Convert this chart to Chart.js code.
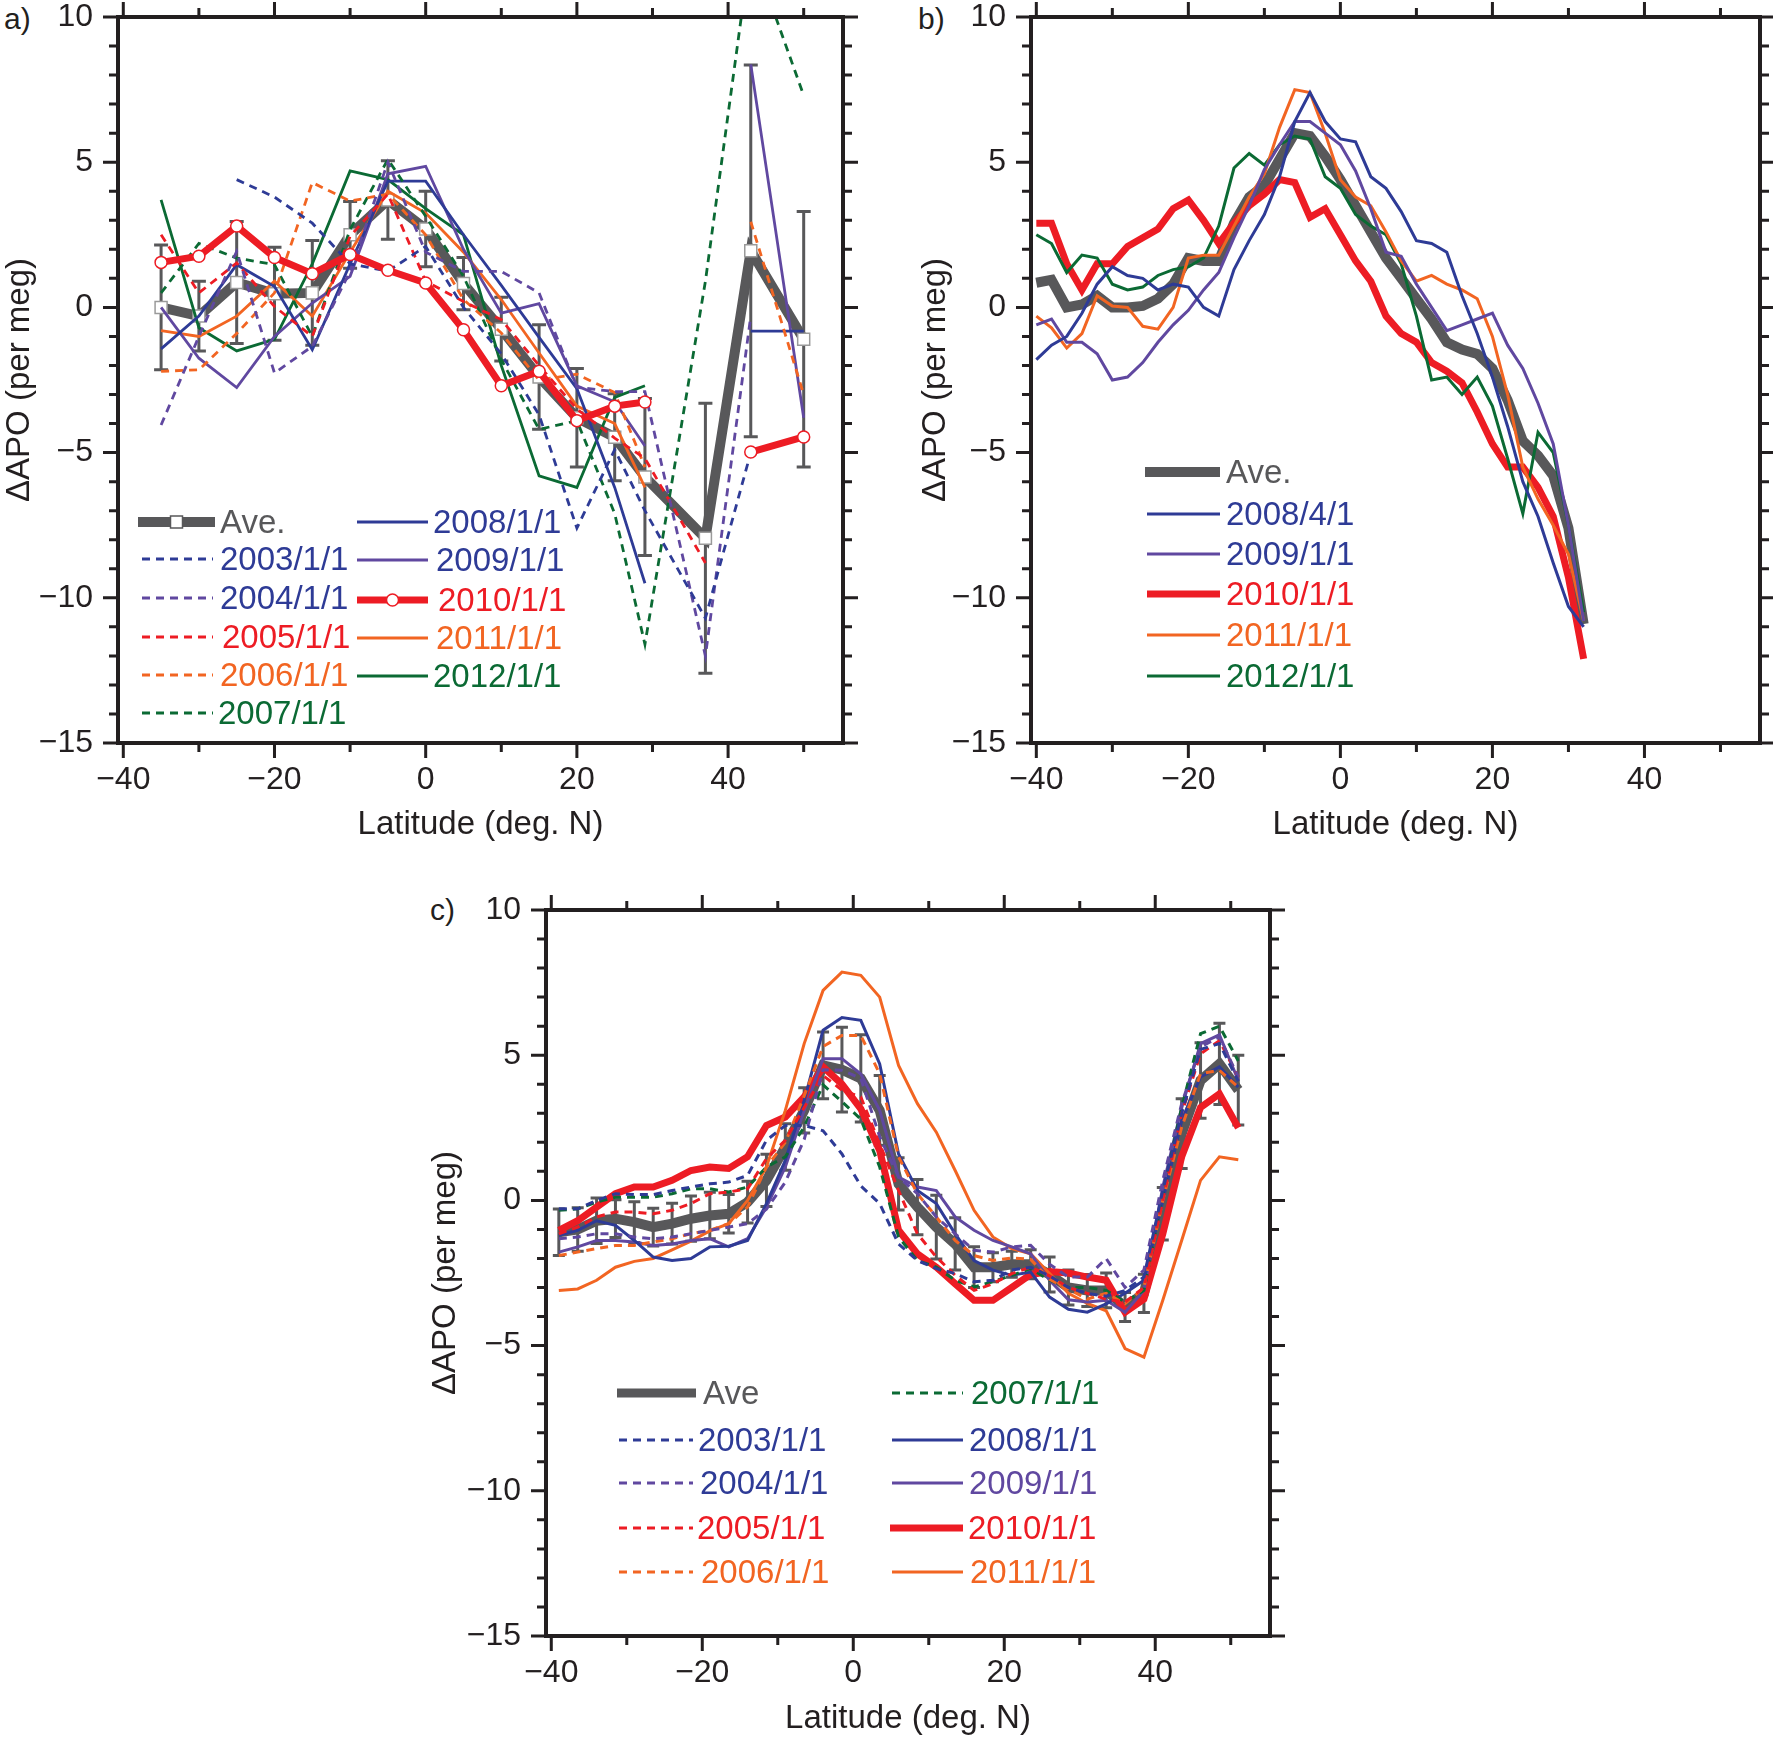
<!DOCTYPE html>
<html>
<head>
<meta charset="utf-8">
<script src="https://cdn.jsdelivr.net/npm/chart.js@4.4.1/dist/chart.umd.min.js"></script>
<style>
  html, body { margin: 0; padding: 0; background: #fff; }
  body { width: 1773px; height: 1739px; position: relative; overflow: hidden; font-family: 'Liberation Sans', Arial, sans-serif; }
  .panel { position: absolute; }
  .tag { position: absolute; font-size: 30px; color: #231f20; }
</style>
</head>
<body>
<div class="tag" style="left:4px;top:2px">a)</div>
<div class="tag" style="left:918px;top:2px">b)</div>
<div class="tag" style="left:430px;top:893px">c)</div>
<div class="panel" style="left:0;top:0;width:880px;height:870px"><canvas id="chartA"></canvas></div>
<div class="panel" style="left:910px;top:0;width:863px;height:870px"><canvas id="chartB"></canvas></div>
<div class="panel" style="left:420px;top:880px;width:880px;height:859px"><canvas id="chartC"></canvas></div>
<script>
// ---- panel a data (latitude bins, per meg) ----
const latA = [-35, -30, -25, -20, -15, -10, -5, 0, 5, 10, 15, 20, 25, 29, 37, 43, 50];
const aveA = [0, -0.3, 0.86, 0.47, 0.5, 2.5, 3.7, 2.7, 0.82, -0.75, -2.4, -3.8, -4.47, -5.84, -7.95, 1.95, -1.1];
const errA = [2.15, 1.2, 2.1, 1.6, 1.8, 1.15, 1.35, 1.3, 0.9, 1.1, 1.8, 1.7, 1.5, 2.7, 4.65, 6.4, 4.4];
const a2003 = [null, null, 4.4, 3.8, 2.9, 1.5, 1.25, 2.1, 0.0, -1.6, -3.7, -7.6, -4.9, -7.0, -10.7, -5.0, null];
const a2004 = [-4.05, -1.0, 1.93, -2.26, -1.34, 1.24, 5.0, 1.9, 1.24, 1.24, 0.5, -2.75, -2.9, -2.9, -12.0, -0.3, null];
const a2005 = [2.5, 0.5, 1.53, 0.03, -1.0, 2.45, 3.9, 0.9, 0.2, -0.42, -2.0, -3.5, -4.5, -5.2, -8.8, null, null];
const a2006 = [-2.2, -2.15, -0.9, 0.5, 4.3, 3.66, 3.9, 2.5, 0.27, -0.88, -2.5, -2.3, -2.93, -5.5, null, 2.95, -3.0];
const a2007 = [0.5, 2.2, 1.7, 1.47, -1.0, 2.68, 5.1, 3.14, 1.07, -1.8, -4.2, -3.9, -7.1, -11.6, 0.9, 12.4, 7.3];
const a2008 = [-1.43, -0.3, 1.47, 0.72, -1.46, 1.5, 4.35, 4.35, 2.5, 0.76, -1.03, -2.8, -6.2, -9.5, null, -0.82, -0.82];
const a2009 = [0, -1.75, -2.76, -1.0, 0.15, 1.07, 4.6, 4.86, 2.0, -0.2, 0.13, -2.7, -3.25, -4.77, null, 8.37, -3.8];
const a2010 = [1.55, 1.76, 2.8, 1.72, 1.16, 1.82, 1.28, 0.84, -0.77, -2.7, -2.2, -3.9, -3.4, -3.26, null, -4.98, -4.46];
const a2011 = [-0.8, -1.0, -0.3, 0.9, -0.3, 1.9, 4.0, 3.25, 1.9, 0.27, -1.57, -3.4, -4.0, -6.2, null, null, null];
const a2012 = [3.7, -0.7, -1.5, -1.1, 1.5, 4.7, 4.4, 3.4, 2.5, -2.0, -5.8, -6.2, -3.1, -2.7, null, null, null];

// ---- panel b data ----
const latB = [-40, -38, -36, -34, -32, -30, -28, -26, -24, -22, -20, -18, -16, -14, -12, -10, -8, -6, -4, -2,
              0, 2, 4, 6, 8, 10, 12, 14, 16, 18, 20, 22, 24, 26, 28, 30, 32];
const aveB = [0.85, 0.95, 0.0, 0.1, 0.4, 0.0, 0.0, 0.05, 0.3, 0.8, 1.7, 1.6, 1.6, 2.9, 3.8, 4.2, 5.1, 6.0, 5.9, 5.2,
              4.4, 3.5, 2.6, 1.7, 1.0, 0.3, -0.4, -1.2, -1.45, -1.6, -2.1, -3.2, -4.6, -5.1, -5.8, -7.6, -10.9];
const b2008 = [-1.8, -1.3, -1.0, -0.2, 0.8, 1.4, 1.1, 1.0, 0.6, 0.8, 0.7, 0.0, -0.3, 1.3, 2.3, 3.2, 4.5, 6.4, 7.4, 6.4,
               5.8, 5.7, 4.5, 4.1, 3.3, 2.3, 2.2, 1.9, 0.4, -0.9, -2.4, -4.1, -6.0, -7.2, -8.8, -10.3, -11.0];
const b2009 = [-0.6, -0.4, -1.2, -1.2, -1.6, -2.5, -2.4, -1.9, -1.2, -0.6, -0.1, 0.6, 1.2, 2.4, 3.5, 4.75, 5.6, 6.4, 6.4, 6.0,
               5.6, 4.7, 3.4, 1.9, 1.76, 0.8, 0.0, -0.8, -0.6, -0.4, -0.2, -1.3, -2.1, -3.3, -4.7, -7.5, -10.8];
const b2010 = [2.9, 2.9, 1.5, 0.6, 1.5, 1.5, 2.1, 2.4, 2.7, 3.4, 3.7, 3.0, 2.2, 2.9, 3.5, 3.9, 4.4, 4.3, 3.1, 3.4,
               2.5, 1.6, 0.9, -0.3, -0.9, -1.2, -1.9, -2.2, -2.6, -3.6, -4.7, -5.5, -5.5, -6.2, -7.2, -9.3, -12.1];
const b2011 = [-0.3, -0.7, -1.4, -0.9, 0.4, 0.05, 0.0, -0.65, -0.75, 0.0, 1.7, 1.8, 1.8, 2.8, 3.8, 4.6, 6.2, 7.5, 7.4, 6.0,
               4.4, 3.8, 3.5, 2.6, 1.6, 0.9, 1.1, 0.8, 0.6, 0.3, -1.0, -3.0, -5.5, -6.6, -7.5, -8.5, -10.8];
const b2012 = [2.5, 2.2, 1.2, 1.8, 1.7, 0.8, 0.6, 0.7, 1.1, 1.3, 1.4, 1.7, 2.8, 4.8, 5.3, 4.9, 5.6, 5.9, 5.8, 4.5,
               4.1, 3.2, 2.8, 2.5, 1.5, -0.3, -2.5, -2.4, -3.0, -2.4, -3.4, -5.2, -7.1, -4.3, -5.0, -7.5, -10.5];

// ---- panel c data ----
const latC = [-39, -36.5, -34, -31.5, -29, -26.5, -24, -21.5, -19, -16.5, -14, -11.5, -9, -6.5, -4, -1.5, 1, 3.5, 6,
              8.5, 11, 13.5, 16, 18.5, 21, 23.5, 26, 28.5, 31, 33.5, 36, 38.5, 41, 43.5, 46, 48.5, 51];
const aveC = [-1.1, -1.0, -0.7, -0.63, -0.75, -0.92, -0.8, -0.63, -0.52, -0.46, -0.06, 0.69, 1.84, 3.1, 4.65, 4.5, 4.2, 3.1, 0.57,
              -0.23, -0.92, -1.5, -2.3, -2.3, -2.2, -2.2, -2.55, -3.0, -3.1, -3.1, -3.67, -3.2, -0.46, 2.3, 4.13, 4.7, 3.8];
const errC = [0.8, 0.75, 0.78, 0.65, 0.7, 0.65, 0.7, 0.78, 0.8, 0.66, 0.72, 0.9, 0.8, 0.78, 1.15, 1.46, 1.5, 1.2, 0.9,
              0.95, 1.1, 0.9, 0.7, 0.5, 0.45, 0.5, 0.6, 0.6, 0.55, 0.6, 0.5, 0.66, 0.9, 1.2, 1.3, 1.4, 1.2];
const c2003 = [-0.29, -0.29, 0.0, 0.23, 0.2, 0.2, 0.34, 0.46, 0.57, 0.63, 0.86, 2.07, 2.58, 2.58, 2.4, 1.6, 0.5, -0.11, -1.5,
               -2.07, -2.35, -2.52, -2.8, -2.75, -2.4, -2.3, -2.6, -3.0, -3.2, -3.3, -3.1, -2.64, 0.34, 3.0, 5.2, 5.4, 4.1];
const c2004 = [-1.32, -1.26, -1.15, -1.15, -1.26, -1.32, -1.26, -1.15, -1.03, -0.92, -0.8, -0.3, 0.63, 2.1, 4.5, 4.48, 4.2, 2.2, 0.8,
               0.23, -0.57, -1.15, -1.72, -1.78, -1.6, -1.55, -2.2, -2.64, -2.64, -2.0, -3.0, -2.4, 0.69, 3.33, 5.28, 5.63, 4.25];
const c2005 = [-1.15, -0.92, -0.57, -0.4, -0.4, -0.46, -0.34, -0.11, 0.23, 0.29, 0.4, 1.44, 2.07, 3.2, 4.3, 3.8, 3.56, 1.95, 0.34,
               -1.15, -1.95, -2.58, -3.1, -2.87, -2.52, -2.3, -2.6, -3.0, -3.2, -3.4, -3.5, -3.0, 0.0, 3.0, 5.05, 5.5, 4.25];
const c2006 = [-1.9, -1.78, -1.66, -1.55, -1.55, -1.43, -1.32, -1.15, -1.03, -0.8, -0.23, 1.15, 2.0, 3.6, 5.3, 5.68, 5.68, 4.36, 1.5,
               0.23, -0.57, -1.38, -1.9, -2.07, -1.98, -2.03, -2.72, -3.05, -3.4, -3.2, -3.56, -3.0, 0.0, 2.52, 4.36, 4.48, 3.9];
const c2007 = [-0.34, -0.29, -0.06, 0.11, 0.11, 0.11, 0.23, 0.4, 0.4, 0.29, 0.46, 1.15, 1.5, 2.53, 3.98, 3.4, 2.8, 1.15, -1.26,
               -2.07, -2.3, -2.75, -2.98, -2.8, -2.58, -2.35, -2.75, -3.0, -3.0, -3.1, -3.5, -3.1, 0.23, 3.2, 5.74, 6.0, 4.8];
const c2008 = [-1.2, -1.03, -0.7, -0.86, -1.38, -1.95, -2.07, -2.0, -1.6, -1.58, -1.38, -0.11, 1.38, 3.44, 5.86, 6.3, 6.2, 4.7, 1.6,
               0.34, -0.11, -1.15, -2.07, -2.4, -2.58, -2.47, -3.33, -3.75, -3.85, -3.56, -3.2, -2.75, 0.0, 2.75, 4.25, 4.6, 3.9];
const c2009 = [-1.78, -1.6, -1.38, -1.38, -1.43, -1.55, -1.5, -1.38, -1.32, -1.6, -1.32, -0.23, 1.15, 3.1, 4.88, 4.88, 4.35, 3.1, 0.8,
               0.46, 0.34, -0.57, -1.03, -1.38, -1.6, -1.84, -2.75, -3.42, -3.5, -3.44, -3.85, -3.1, 0.46, 3.2, 5.4, 5.7, 4.13];
const c2010 = [-1.03, -0.7, -0.23, 0.23, 0.46, 0.46, 0.69, 1.03, 1.15, 1.1, 1.5, 2.58, 2.87, 3.56, 4.6, 4.0, 3.15, 1.72, -1.03,
               -1.84, -2.3, -2.87, -3.44, -3.44, -3.0, -2.55, -2.45, -2.5, -2.64, -2.75, -3.85, -3.4, -1.15, 1.5, 3.2, 3.67, 2.5];
const c2011 = [-3.1, -3.05, -2.75, -2.3, -2.1, -2.0, -1.7, -1.4, -1.05, -0.8, 0.0, 1.15, 3.1, 5.4, 7.23, 7.86, 7.75, 7.0, 4.65,
               3.33, 2.35, 1.03, -0.34, -1.26, -1.66, -1.84, -2.52, -3.2, -3.55, -3.8, -5.1, -5.4, -3.44, -1.38, 0.69, 1.5, 1.4];

const BLUE = '#2e3b96', PURPLE = '#6048a0', RED = '#ed1c24', ORANGE = '#f26522', GREEN = '#0b6a34', GREY = '#58585a';
const INK = '#231f20';
const DASH = [8, 6];

Chart.defaults.font.family = "'Liberation Sans', Arial, sans-serif";

const minus = v => (v < 0 ? '\u2212' + Math.abs(v) : String(v));

function series(lat, vals, color, width, dash, extra) {
  return Object.assign({
    data: lat.map((x, i) => ({ x: x, y: vals[i] })),
    borderColor: color,
    backgroundColor: color,
    borderWidth: width,
    borderDash: dash || [],
    pointRadius: 0,
    fill: false,
    tension: 0,
    order: 5
  }, extra || {});
}

// axis frame with outward major/minor ticks
const framePlugin = {
  id: 'frame',
  afterDraw(chart) {
    const { ctx, chartArea: a, scales: { x, y } } = chart;
    ctx.save();
    ctx.strokeStyle = INK;
    ctx.lineWidth = 4;
    ctx.strokeRect(a.left, a.top, a.right - a.left, a.bottom - a.top);
    ctx.lineWidth = 3;
    ctx.beginPath();
    for (let v = -40; v <= x.max; v += 10) {
      const px = x.getPixelForValue(v);
      const len = v % 20 === 0 ? 15 : 9;
      ctx.moveTo(px, a.bottom); ctx.lineTo(px, a.bottom + len);
      ctx.moveTo(px, a.top); ctx.lineTo(px, a.top - len);
    }
    for (let v = -15; v <= 10; v += 1) {
      const py = y.getPixelForValue(v);
      const len = v % 5 === 0 ? 15 : 9;
      ctx.moveTo(a.left, py); ctx.lineTo(a.left - len, py);
      ctx.moveTo(a.right, py); ctx.lineTo(a.right + len, py);
    }
    ctx.stroke();
    ctx.restore();
  }
};

const errorBarPlugin = {
  id: 'errorBars',
  beforeDatasetsDraw(chart, args, opts) {
    if (!opts.errors) return;
    const { ctx, scales: { x, y } } = chart;
    const pts = chart.data.datasets[opts.dataset].data;
    ctx.save();
    ctx.strokeStyle = GREY;
    ctx.lineWidth = 3;
    ctx.beginPath();
    pts.forEach((p, i) => {
      const e = opts.errors[i];
      const px = x.getPixelForValue(p.x);
      const top = y.getPixelForValue(p.y + e);
      const bot = y.getPixelForValue(p.y - e);
      ctx.moveTo(px, top); ctx.lineTo(px, bot);
      ctx.moveTo(px - opts.cap, top); ctx.lineTo(px + opts.cap, top);
      ctx.moveTo(px - opts.cap, bot); ctx.lineTo(px + opts.cap, bot);
    });
    ctx.stroke();
    ctx.restore();
  }
};

// legend laid out in the plot like the original
const legendPlugin = {
  id: 'boxLegend',
  afterDraw(chart, args, opts) {
    if (!opts.items) return;
    const ctx = chart.ctx;
    ctx.save();
    ctx.font = '33px "Liberation Sans", Arial, sans-serif';
    ctx.textBaseline = 'middle';
    opts.items.forEach(it => {
      const x1 = it.x1 - opts.dx, x2 = it.x2 - opts.dx, ty = it.y - opts.dy;
      ctx.strokeStyle = it.color;
      ctx.lineWidth = it.width;
      ctx.setLineDash(it.dash || []);
      ctx.beginPath(); ctx.moveTo(x1, ty); ctx.lineTo(x2, ty); ctx.stroke();
      ctx.setLineDash([]);
      const mx = (x1 + x2) / 2;
      if (it.marker === 'rect') {
        ctx.fillStyle = '#fff'; ctx.lineWidth = 1.5;
        ctx.fillRect(mx - 6, ty - 6, 12, 12); ctx.strokeRect(mx - 6, ty - 6, 12, 12);
      } else if (it.marker === 'circle') {
        ctx.fillStyle = '#fff'; ctx.lineWidth = 1.5;
        ctx.beginPath(); ctx.arc(mx, ty, 6, 0, Math.PI * 2); ctx.fill(); ctx.stroke();
      }
      ctx.fillStyle = it.text;
      ctx.fillText(it.label, it.tx - opts.dx, ty + 2);
    });
    ctx.restore();
  }
};

function makePanel(id, datasets, o) {
  return new Chart(document.getElementById(id), {
    type: 'line',
    data: { datasets: datasets },
    options: {
      animation: false,
      responsive: true,
      maintainAspectRatio: false,
      layout: { padding: o.padding },
      scales: {
        x: {
          type: 'linear', min: -40.7, max: 55.2,
          border: { display: false },
          grid: { display: false, drawTicks: false },
          ticks: { stepSize: 20, includeBounds: false, autoSkip: false, maxRotation: 0, padding: 18,
                   color: INK, font: { size: 32 }, callback: minus },
          title: { display: true, text: 'Latitude (deg. N)', color: INK, font: { size: 33 },
                   padding: { top: 0, bottom: o.xTitlePad } },
          afterFit: s => { s.height = o.xHeight; s.paddingLeft = 0; s.paddingRight = 0; }
        },
        y: {
          type: 'linear', min: -15, max: 10,
          border: { display: false },
          grid: { display: false, drawTicks: false },
          ticks: { stepSize: 5, padding: 25, color: INK, font: { size: 32 }, callback: minus },
          title: { display: true, text: '\u0394APO (per meg)', color: INK, font: { size: 33 },
                   padding: { top: o.yTitlePad, bottom: 0 } },
          afterFit: s => { s.width = o.yWidth; s.paddingTop = 0; s.paddingBottom = 0; }
        }
      },
      plugins: {
        legend: { display: false },
        tooltip: { enabled: false },
        errorBars: o.errorBars || {},
        boxLegend: o.legend
      }
    },
    plugins: [errorBarPlugin, framePlugin, legendPlugin]
  });
}

// ---- panel a ----
makePanel('chartA', [
  series(latA, a2010, RED, 7, null, { order: 1, pointRadius: 6, pointStyle: 'circle', pointBackgroundColor: '#fff', pointBorderColor: RED, pointBorderWidth: 1.5 }),
  series(latA, a2003, BLUE, 2.8, DASH),
  series(latA, a2004, PURPLE, 2.8, DASH),
  series(latA, a2005, RED, 2.8, DASH),
  series(latA, a2006, ORANGE, 2.8, DASH),
  series(latA, a2007, GREEN, 2.8, DASH),
  series(latA, a2008, BLUE, 2.8),
  series(latA, a2009, PURPLE, 2.8),
  series(latA, a2011, ORANGE, 2.8),
  series(latA, a2012, GREEN, 2.8),
  series(latA, aveA, GREY, 10, null, { order: 9, pointRadius: 8.5, pointStyle: 'rect', pointBackgroundColor: '#fff', pointBorderColor: '#9a9a9a', pointBorderWidth: 1.5 })
], {
  padding: { top: 17, right: 37, left: 0, bottom: 0 },
  yWidth: 118, xHeight: 127, xTitlePad: 25, yTitlePad: 0,
  errorBars: { dataset: 10, errors: errA, cap: 7 },
  legend: { dx: 0, dy: 0, items: [
    { label: 'Ave.', color: GREY, width: 10, x1: 138, x2: 215, tx: 220, y: 522, text: GREY, marker: 'rect' },
    { label: '2003/1/1', color: BLUE, width: 2.8, dash: DASH, x1: 142, x2: 213, tx: 220, y: 559, text: BLUE },
    { label: '2004/1/1', color: PURPLE, width: 2.8, dash: DASH, x1: 142, x2: 213, tx: 220, y: 598, text: BLUE },
    { label: '2005/1/1', color: RED, width: 2.8, dash: DASH, x1: 142, x2: 213, tx: 222, y: 637, text: RED },
    { label: '2006/1/1', color: ORANGE, width: 2.8, dash: DASH, x1: 142, x2: 213, tx: 220, y: 675, text: ORANGE },
    { label: '2007/1/1', color: GREEN, width: 2.8, dash: DASH, x1: 142, x2: 213, tx: 218, y: 713, text: GREEN },
    { label: '2008/1/1', color: BLUE, width: 2.8, x1: 357, x2: 428, tx: 433, y: 522, text: BLUE },
    { label: '2009/1/1', color: PURPLE, width: 2.8, x1: 357, x2: 428, tx: 436, y: 560, text: BLUE },
    { label: '2010/1/1', color: RED, width: 7, x1: 357, x2: 428, tx: 438, y: 600, text: RED, marker: 'circle' },
    { label: '2011/1/1', color: ORANGE, width: 2.8, x1: 357, x2: 428, tx: 436, y: 638, text: ORANGE },
    { label: '2012/1/1', color: GREEN, width: 2.8, x1: 357, x2: 428, tx: 433, y: 676, text: GREEN }
  ] }
});

// ---- panel b ----
makePanel('chartB', [
  series(latB, b2008, BLUE, 3),
  series(latB, b2009, PURPLE, 3),
  series(latB, b2011, ORANGE, 3),
  series(latB, b2012, GREEN, 3),
  series(latB, b2010, RED, 7, null, { order: 6 }),
  series(latB, aveB, GREY, 10, null, { order: 9 })
], {
  padding: { top: 17, right: 13, left: 0, bottom: 0 },
  yWidth: 121, xHeight: 127, xTitlePad: 25, yTitlePad: 6,
  legend: { dx: 910, dy: 0, items: [
    { label: 'Ave.', color: GREY, width: 10, x1: 1145, x2: 1220, tx: 1226, y: 472, text: GREY },
    { label: '2008/4/1', color: BLUE, width: 3, x1: 1147, x2: 1220, tx: 1226, y: 514, text: BLUE },
    { label: '2009/1/1', color: PURPLE, width: 3, x1: 1147, x2: 1220, tx: 1226, y: 554, text: BLUE },
    { label: '2010/1/1', color: RED, width: 7, x1: 1147, x2: 1220, tx: 1226, y: 594, text: RED },
    { label: '2011/1/1', color: ORANGE, width: 3, x1: 1147, x2: 1220, tx: 1226, y: 635, text: ORANGE },
    { label: '2012/1/1', color: GREEN, width: 3, x1: 1147, x2: 1220, tx: 1226, y: 676, text: GREEN }
  ] }
});

// ---- panel c ----
makePanel('chartC', [
  series(latC, c2003, BLUE, 3, DASH),
  series(latC, c2004, PURPLE, 3, DASH),
  series(latC, c2005, RED, 3, DASH),
  series(latC, c2006, ORANGE, 3, DASH),
  series(latC, c2007, GREEN, 3, DASH),
  series(latC, c2008, BLUE, 3),
  series(latC, c2009, PURPLE, 3),
  series(latC, c2011, ORANGE, 3),
  series(latC, c2010, RED, 7, null, { order: 6 }),
  series(latC, aveC, GREY, 10, null, { order: 9 })
], {
  padding: { top: 30, right: 30, left: 0, bottom: 0 },
  yWidth: 126, xHeight: 103, xTitlePad: 0, yTitlePad: 6,
  errorBars: { dataset: 9, errors: errC, cap: 6 },
  legend: { dx: 420, dy: 880, items: [
    { label: 'Ave', color: GREY, width: 9, x1: 617, x2: 696, tx: 703, y: 1393, text: GREY },
    { label: '2003/1/1', color: BLUE, width: 3, dash: DASH, x1: 619, x2: 693, tx: 698, y: 1440, text: BLUE },
    { label: '2004/1/1', color: PURPLE, width: 3, dash: DASH, x1: 619, x2: 693, tx: 700, y: 1483, text: BLUE },
    { label: '2005/1/1', color: RED, width: 3, dash: DASH, x1: 619, x2: 693, tx: 697, y: 1528, text: RED },
    { label: '2006/1/1', color: ORANGE, width: 3, dash: DASH, x1: 619, x2: 693, tx: 701, y: 1572, text: ORANGE },
    { label: '2007/1/1', color: GREEN, width: 3, dash: DASH, x1: 892, x2: 963, tx: 971, y: 1393, text: GREEN },
    { label: '2008/1/1', color: BLUE, width: 3, x1: 892, x2: 963, tx: 969, y: 1440, text: BLUE },
    { label: '2009/1/1', color: PURPLE, width: 3, x1: 892, x2: 963, tx: 969, y: 1483, text: PURPLE },
    { label: '2010/1/1', color: RED, width: 7, x1: 890, x2: 963, tx: 968, y: 1528, text: RED },
    { label: '2011/1/1', color: ORANGE, width: 3, x1: 892, x2: 963, tx: 970, y: 1572, text: ORANGE }
  ] }
});
</script>
</body>
</html>
